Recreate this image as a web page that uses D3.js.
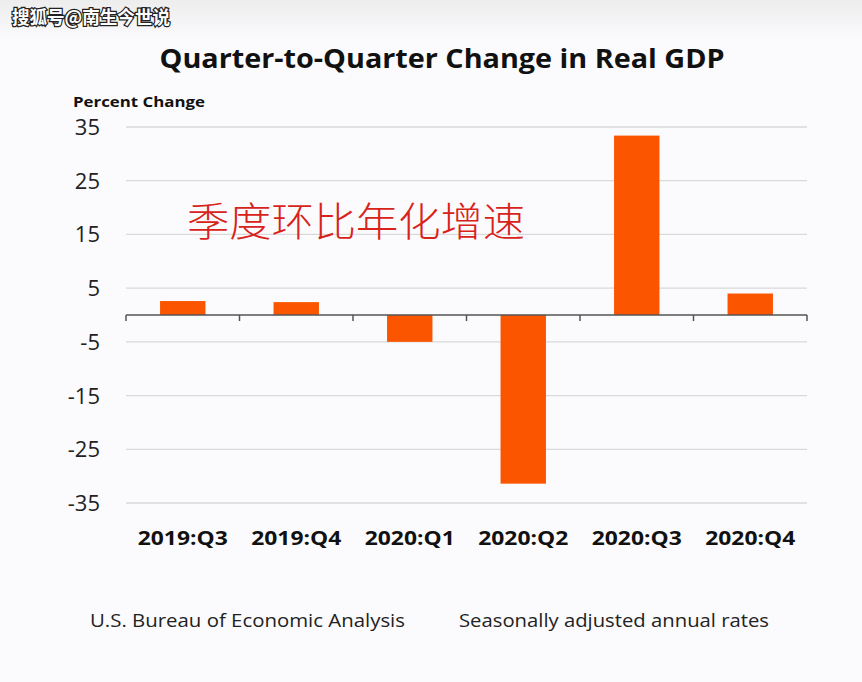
<!DOCTYPE html>
<html><head><meta charset="utf-8">
<script src="https://cdn.jsdelivr.net/npm/d3@7"></script>
<style>html,body{margin:0;padding:0;background:#fbfbfd;}svg{display:block;}</style>
</head><body>
<svg id="c" width="862" height="682"></svg>
<script>
const categories = ["2019:Q3","2019:Q4","2020:Q1","2020:Q2","2020:Q3","2020:Q4"];
const values = [2.6, 2.4, -5.0, -31.4, 33.4, 4.0];
const yTicks = [35, 25, 15, 5, -5, -15, -25, -35];

const svg = d3.select("#c");
const W = 862, H = 682;

const defs = svg.append("defs");
const g0 = defs.append("linearGradient").attr("id","bg").attr("x1",0).attr("y1",0).attr("x2",0).attr("y2",1);
g0.append("stop").attr("offset","0").attr("stop-color","#ededee");
g0.append("stop").attr("offset","0.06").attr("stop-color","#fbfbfd");
g0.append("stop").attr("offset","1").attr("stop-color","#fbfbfd");
svg.append("rect").attr("width",W).attr("height",H).attr("fill","url(#bg)");

const x = d3.scaleBand().domain(categories).range([126, 807]).paddingInner(0.6).paddingOuter(0.3);
const y = d3.scaleLinear().domain([-35, 35]).range([503, 127]);

// gridlines
svg.append("g").selectAll("line").data(yTicks).join("line")
  .attr("x1",126).attr("x2",807)
  .attr("y1",d=>y(d)).attr("y2",d=>y(d))
  .attr("stroke","#d9d9dc").attr("stroke-width",1.3);

// y tick labels
svg.append("g").selectAll("text").data(yTicks).join("text")
  .attr("x",100).attr("y",d=>y(d)+8)
  .attr("text-anchor","end")
  .attr("font-family","'Open Sans','Noto Sans',sans-serif")
  .attr("font-size",22).attr("fill","#222")
  .text(d=>d);

// bars
svg.append("g").selectAll("rect").data(values).join("rect")
  .attr("x",(d,i)=>x(categories[i]))
  .attr("width",x.bandwidth())
  .attr("y",d=>y(Math.max(0,d)))
  .attr("height",d=>Math.abs(y(d)-y(0)))
  .attr("fill","#fb5500");

// zero axis with ticks at band boundaries
const zeroAxis = d3.axisBottom(x).tickSize(0).tickFormat("");
const ax = svg.append("g").attr("transform",`translate(0,${y(0)})`);
ax.append("line").attr("x1",126).attr("x2",807).attr("y1",0).attr("y2",0).attr("stroke","#555").attr("stroke-width",1.5);
const step = x.step();
const bounds = d3.range(categories.length+1).map(i=> i===0 ? 126 : (i===categories.length ? 807 : x(categories[i]) - step*x.paddingInner()/2));
ax.selectAll("line.t").data(bounds).join("line").attr("class","t")
  .attr("x1",d=>d).attr("x2",d=>d).attr("y1",0).attr("y2",6)
  .attr("stroke","#555").attr("stroke-width",1.5);

// x labels
svg.append("g").selectAll("text").data(categories).join("text")
  .attr("x",d=>x(d)+x.bandwidth()/2).attr("y",545)
  .attr("text-anchor","middle")
  .attr("font-family","'Open Sans','Noto Sans',sans-serif")
  .attr("font-weight","bold").attr("font-size",19).attr("fill","#111")
  .attr("textLength",90).attr("lengthAdjust","spacingAndGlyphs")
  .text(d=>d);

// title
svg.append("text").attr("x",442).attr("y",68).attr("text-anchor","middle")
  .attr("font-family","'Open Sans','Noto Sans',sans-serif").attr("font-weight","bold")
  .attr("font-size",27).attr("fill","#111")
  .attr("textLength",565).attr("lengthAdjust","spacingAndGlyphs")
  .text("Quarter-to-Quarter Change in Real GDP");

// y axis title
svg.append("text").attr("x",73).attr("y",107)
  .attr("font-family","'Open Sans','Noto Sans',sans-serif").attr("font-weight","bold")
  .attr("font-size",15).attr("fill","#111")
  .attr("textLength",132).attr("lengthAdjust","spacingAndGlyphs")
  .text("Percent Change");

// Chinese annotation
svg.append("text").attr("x",187).attr("y",236)
  .attr("font-family","'Noto Sans CJK SC',sans-serif").attr("font-weight",300)
  .attr("font-size",40).attr("fill","#d8231b")
  .attr("textLength",338).attr("lengthAdjust","spacingAndGlyphs")
  .text("季度环比年化增速");

// footer
svg.append("text").attr("x",90).attr("y",627)
  .attr("font-family","'Open Sans','Noto Sans',sans-serif")
  .attr("font-size",19).attr("fill","#222")
  .attr("textLength",315).attr("lengthAdjust","spacingAndGlyphs")
  .text("U.S. Bureau of Economic Analysis");
svg.append("text").attr("x",459).attr("y",627)
  .attr("font-family","'Open Sans','Noto Sans',sans-serif")
  .attr("font-size",19).attr("fill","#222")
  .attr("textLength",310).attr("lengthAdjust","spacingAndGlyphs")
  .text("Seasonally adjusted annual rates");

// watermark
svg.append("text").attr("x",12).attr("y",24)
  .attr("font-family","'Noto Sans CJK SC',sans-serif").attr("font-weight","bold")
  .attr("font-size",18).attr("fill","#fff").attr("stroke","#222").attr("stroke-width",2.5)
  .attr("paint-order","stroke")
  .attr("textLength",158).attr("lengthAdjust","spacingAndGlyphs")
  .text("搜狐号@南生今世说");
</script>
</body></html>
